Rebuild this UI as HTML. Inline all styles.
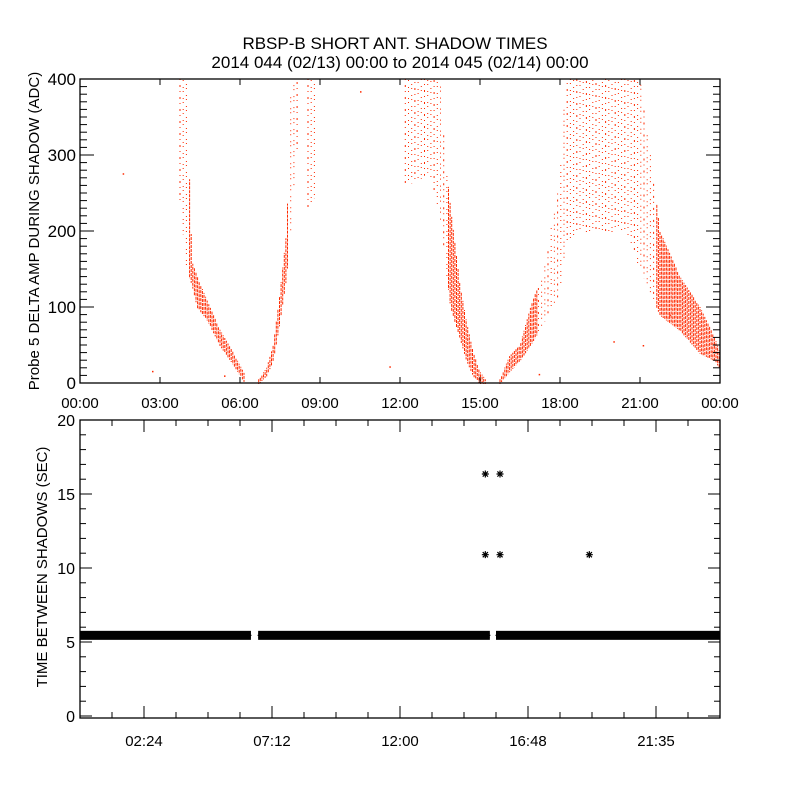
<!DOCTYPE html>
<html><head><meta charset="utf-8">
<style>
html,body{margin:0;padding:0;background:#fff;}
svg{display:block;font-family:"Liberation Sans",sans-serif;}
text{fill:#000;}
</style></head>
<body>
<svg id="chart" width="800" height="800" viewBox="0 0 800 800" xmlns="http://www.w3.org/2000/svg">
<rect width="800" height="800" fill="#fff"/>
<text x="395" y="49" font-size="17" text-anchor="middle">RBSP-B SHORT ANT. SHADOW TIMES</text>
<text x="400" y="68" font-size="17" text-anchor="middle">2014 044 (02/13) 00:00 to 2014 045 (02/14) 00:00</text>
<g id="topPanel"></g>
<g id="botPanel"></g>
</svg>
<script>
// ---- Top panel data: scatter band envelope (hour, low, high, dense?) per pass ----
const passHours = [
 [3.75,4.0,4.2,4.4,4.75,5.25,5.75,6.2],
 [6.7,7.0,7.25,7.5,7.75,7.9,8.1,8.25],
 [8.55,8.7,8.9],
 [12.2,12.8,13.1,13.5,13.7,13.9,14.25,14.5,14.75,15.0,15.2],
 [15.75,16.1,16.5,16.9,17.4,18.0,18.2,18.6,19.5,20.5,21.0,21.4,21.75,22.5,23.25,23.8,24.0]
];
const passLow = [
 [240,150,130,100,85,50,25,0],
 [0,10,30,80,140,200,300,320],
 [230,240,250],
 [260,270,280,220,160,100,60,30,10,0,0],
 [0,15,30,50,80,120,180,200,200,200,150,120,90,70,40,30,20]
];
const passHigh = [
 [400,400,160,140,110,70,40,10],
 [5,20,50,120,200,380,400,400],
 [400,400,400],
 [400,400,400,400,300,230,130,80,40,15,5],
 [5,35,50,100,150,270,400,400,400,400,400,300,200,140,100,60,40]
];
const passDense = [
 [0,0,1,1,1,1,1,1],
 [1,1,1,1,1,0,0,0],
 [0,0,0],
 [0,0,0,0,0,1,1,1,1,1,1],
 [1,1,1,1,0,0,0,0,0,0,0,0,1,1,1,1,1]
];
const topYTicks = [0,100,200,300,400];
const topXLabels = ["00:00","03:00","06:00","09:00","12:00","15:00","18:00","21:00","00:00"];
const strayHours = [1.6,2.7,5.4,10.5,11.6,17.2,20.0,21.1,22.1];
const strayVals = [276,16,10,384,22,12,55,50,90];

// ---- Bottom panel data ----
const bandStart = [0,6.68,15.6];
const bandEnd = [6.41,15.37,24];
const bandValue = 5.45;
const outHours = [15.2,15.2,15.75,15.75,19.1];
const outVals = [16.35,10.9,16.35,10.9,10.9];
const botYTicks = [0,5,10,15,20];
const botXLabels = ["02:24","07:12","12:00","16:48","21:35"];
const botXLabelHours = [2.4,7.2,12.0,16.8,21.6];

const NS="http://www.w3.org/2000/svg";
function mk(tag,attrs,parent){const e=document.createElementNS(NS,tag);for(const k in attrs)e.setAttribute(k,attrs[k]);parent.appendChild(e);return e;}
const topG=document.getElementById('topPanel'), botG=document.getElementById('botPanel');

const TL=80,TR=720,TT=79,TB=383;
const tx=h=>TL+h/24*(TR-TL);
const ty=v=>TB-v/400*(TB-TT);
const dots=mk('g',{},topG);


passHours.forEach((hs,p)=>{
  const lo=passLow[p],hi=passHigh[p],dn=passDense[p];
  const x0=tx(hs[0]),x1=tx(hs[hs.length-1]);
  let k=0;
  for(let x=x0;x<=x1+0.01;x+=1.6,k++){
    const h=(x-TL)/(TR-TL)*24;
    let i=0;while(i<hs.length-2&&h>hs[i+1])i++;
    const f=hs[i+1]===hs[i]?0:Math.min(1,Math.max(0,(h-hs[i])/(hs[i+1]-hs[i])));
    const l=lo[i]+(lo[i+1]-lo[i])*f, u=hi[i]+(hi[i+1]-hi[i])*f;
    const d=f<0.5?dn[i]:dn[i+1];
    if(!d && k%2===1) continue;
    const y1=ty(Math.min(400,u)),y2=ty(Math.max(0,l))+1;
    const off=(k*7)%11;
    const ln=mk('line',{x1:x.toFixed(1),x2:x.toFixed(1),y1:y1.toFixed(1),y2:y2.toFixed(1),stroke:'#ff2a00','stroke-width':1,'stroke-dasharray':d?'3 1':(k%3===0?'1 5 2 4':'1 3 1 6'),'stroke-dashoffset':off},dots);
    
    
  }
});
strayHours.forEach((h,i)=>{
  const r=mk('rect',{x:tx(h),y:ty(strayVals[i]),width:1.5,height:1.5,fill:'#ff2a00'},dots);
  
  
});
const tf=mk('rect',{x:TL,y:TT,width:TR-TL,height:TB-TT,fill:'none',stroke:'#000','stroke-width':1.3},topG);


for(let v=0;v<=400;v+=10){
  const len=v%100===0?14:7;
  mk('line',{x1:TL,x2:TL+len,y1:ty(v),y2:ty(v),stroke:'#000'},topG);
  mk('line',{x1:TR,x2:TR-len,y1:ty(v),y2:ty(v),stroke:'#000'},topG);
}
topYTicks.forEach(v=>{
  const t=mk('text',{x:TL-4,y:ty(v)+6,'font-size':17,'text-anchor':'end'},topG);
  t.textContent=v;
  
  
});
topXLabels.forEach((s,i)=>{
  const x=tx(i*3);
  mk('line',{x1:x,x2:x,y1:TB,y2:TB-6,stroke:'#000'},topG);
  mk('line',{x1:x,x2:x,y1:TT,y2:TT+6,stroke:'#000'},topG);
  const t=mk('text',{x:x,y:408,'font-size':15,'text-anchor':'middle'},topG);
  t.textContent=s;
  
  
});
const tyt=mk('text',{x:0,y:0,'font-size':15,'text-anchor':'middle',transform:'translate(39,231) rotate(-90)'},topG);
tyt.textContent='Probe 5 DELTA AMP DURING SHADOW (ADC)';



const BL=80,BR=720,BT=420,BB=718;
const bx=h=>BL+h/24*(BR-BL);
const by=v=>716-v*14.8;
function star(x,y,g){
  return mk('path',{d:`M${x-3.5} ${y}H${x+3.5}M${x} ${y-3.5}V${y+3.5}M${x-2.6} ${y-2.6}L${x+2.6} ${y+2.6}M${x-2.6} ${y+2.6}L${x+2.6} ${y-2.6}`,stroke:'#000','stroke-width':1.2,fill:'none'},g);
}
const bands=mk('g',{},botG);


bandStart.forEach((s,i)=>{
  const x0=bx(s),x1=bx(bandEnd[i]),y=by(bandValue);
  const r=mk('rect',{x:x0,y:y-4.5,width:x1-x0,height:9,fill:'#000'},bands);
  
  
  star(x0+3,y,bands);star(x1-3,y,bands);
});
outHours.forEach((h,i)=>{
  const s=star(bx(h),by(outVals[i]),botG);
  
  
});
const bf=mk('rect',{x:BL,y:BT,width:BR-BL,height:BB-BT,fill:'none',stroke:'#000','stroke-width':1.3},botG);


for(let v=0;v<=20;v+=1){
  const len=v%5===0?12:6;
  mk('line',{x1:BL,x2:BL+len,y1:by(v),y2:by(v),stroke:'#000'},botG);
  mk('line',{x1:BR,x2:BR-len,y1:by(v),y2:by(v),stroke:'#000'},botG);
}
botYTicks.forEach(v=>{
  const t=mk('text',{x:BL-5,y:by(v)+6,'font-size':16,'text-anchor':'end'},botG);
  t.textContent=v;
  
  
});
for(let k=1;k<20;k++){
  const h=k*1.2;
  const len=(k%4===2)?12:6;
  mk('line',{x1:bx(h),x2:bx(h),y1:BB,y2:BB-len,stroke:'#000'},botG);
  mk('line',{x1:bx(h),x2:bx(h),y1:BT,y2:BT+len,stroke:'#000'},botG);
}
botXLabels.forEach((s,i)=>{
  const t=mk('text',{x:bx(botXLabelHours[i]),y:746,'font-size':15,'text-anchor':'middle'},botG);
  t.textContent=s;
  
  
});
const byt=mk('text',{x:0,y:0,'font-size':15,'text-anchor':'middle',transform:'translate(47,567) rotate(-90)'},botG);
byt.textContent='TIME BETWEEN SHADOWS (SEC)';


</script>
</body></html>
